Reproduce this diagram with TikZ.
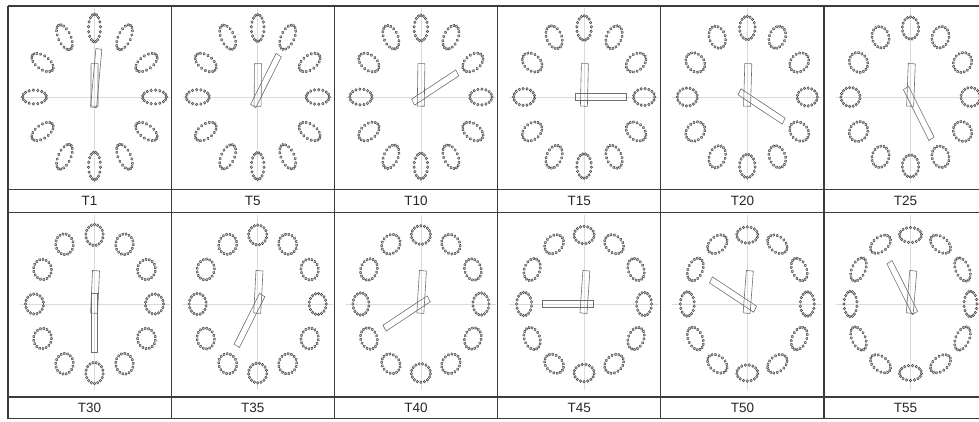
\documentclass[tikz,border=0pt]{standalone}
\usepackage{fontspec}
\setmainfont{Liberation Sans}
\usepackage{xcolor}
\definecolor{grid-line}{HTML}{3C3C3C}
\definecolor{dot-gray}{HTML}{4A4A4A}
\definecolor{hand-gray}{HTML}{6E6E6E}
\definecolor{axis-gray}{HTML}{DADADA}

\begin{document}
\begin{tikzpicture}[x=1pt, y=1pt,
    every node/.style={font=\fontsize{13.5}{16}\selectfont, text=black!85}]
  \useasboundingbox (0,0) rectangle (979,421);
  \clip (0,0) rectangle (979,421);
  % table rules
  \foreach \y in {415, 231.5, 208.3, 24, 2.3}
    \draw[grid-line, line width=1.3] (8,\y) -- (995,\y);
  \foreach \i in {0,...,6}
    \draw[grid-line, line width=1.3] (8+163.2*\i, 2.3) -- (8+163.2*\i, 415);
  % one clock per cell
  \foreach \t [count=\k from 0] in {1,5,10,15,20,25,30,35,40,45,50,55} {
    \pgfmathsetmacro{\col}{mod(\k,6)}
    \pgfmathsetmacro{\row}{int(\k/6)}
    \pgfmathsetmacro{\cx}{94.5+163.2*\col}
    \pgfmathsetmacro{\cy}{324-207*\row}
    \pgfmathsetmacro{\ra}{12-5.5*(\t-1)/54}
    \pgfmathsetmacro{\rb}{6+5*(\t-1)/54}
    \node (lbl\t) at (89.6+163.2*\col, 220-207*\row) {T\t};
    \begin{scope}[shift={(\cx,\cy)}, yscale=1.15]
      \draw[axis-gray, line width=0.6] (-75,0) -- (75,0);
      \draw[axis-gray, line width=0.6] (0,-75) -- (0,77);
      \foreach \h in {0,...,11} {
        \begin{scope}[rotate=-30*\h]
          \foreach \d in {0,...,16}
            \draw[dot-gray, line width=0.5, fill=black!20]
              ({\rb*sin(360/17*\d)}, {60+\ra*cos(360/17*\d)}) circle (1.2);
        \end{scope}
      }
      % hour and minute hands
      \draw[hand-gray, line width=0.6, rotate=-\t/10] (-3.5,-8) rectangle (3.5,29);
      \draw[hand-gray, line width=0.6, rotate=-6*\t] (-3,-9) rectangle (3,42);
    \end{scope}
  }
\end{tikzpicture}
\end{document}
